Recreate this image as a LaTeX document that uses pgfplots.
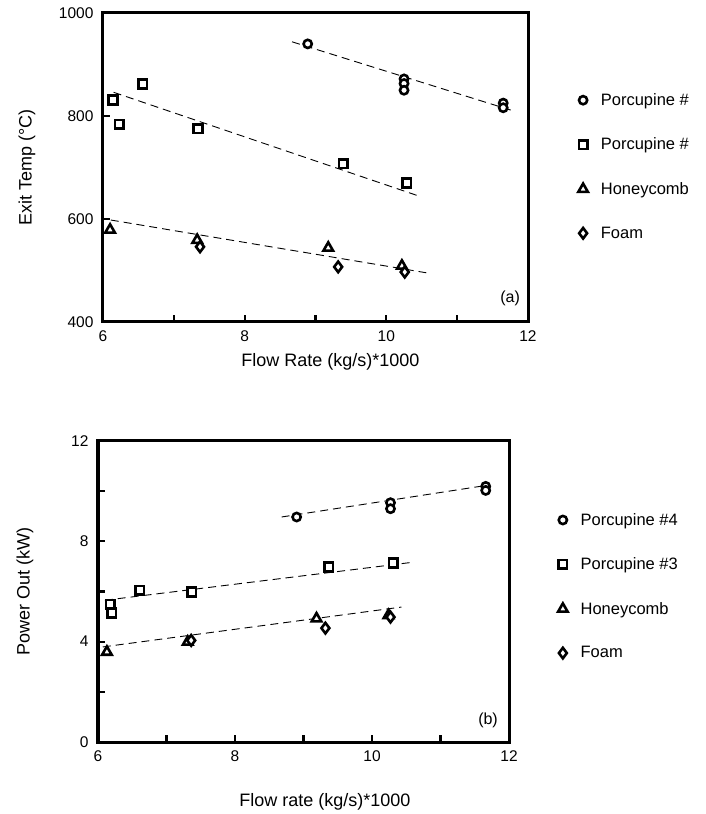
\documentclass[border=0pt]{standalone}
\usepackage{fontspec}
\setmainfont{Liberation Sans}
\usepackage{pgfplots}
\pgfplotsset{compat=1.18}
\pgfplotsset{
  myaxis/.style={
    scale only axis,
    clip=false,
    separate axis lines,
    every outer x axis line/.append style={line width=3pt, black},
    every outer y axis line/.append style={line width=3pt, black},
    major tick style={line width=2.2pt, black},
    major tick length=7pt,
    tick align=inside,
    xtick pos=left, ytick pos=left,
    /pgf/number format/assume math mode=true,
    tick label style={font=\fontsize{15.5}{18}\selectfont},
    xticklabel style={yshift=-5pt},
    yticklabel style={xshift=-6pt},
    legend style={font=\fontsize{16.5}{19}\selectfont, draw=none, fill=none, inner sep=0pt,
      row sep=27pt, anchor=west, /tikz/every odd column/.append style={column sep=11pt}},
    legend cell align=left,
    legend image code/.code={\draw[##1] plot coordinates {(0pt,0pt)};},
  },
  mc/.style={only marks, black, mark=*, mark size=4.1pt, mark options={line width=2.6pt, fill=white}},
  ms/.style={only marks, black, mark=square*, mark size=4.3pt, mark options={line width=2.6pt, fill=white}},
  mt/.style={only marks, black, mark=triangle*, mark size=5.5pt, mark options={line width=2.6pt, fill=white}},
  md/.style={only marks, black, mark=diamond*, mark size=5.3pt, mark options={line width=2.6pt, fill=white}},
  trend/.style={forget plot, black, line width=0.9pt, dash pattern=on 8pt off 5pt, mark=none},
}
\begin{document}
\begin{tikzpicture}
\useasboundingbox (0pt,0pt) rectangle (705pt,814pt);
% ---------------- (a) ----------------
\begin{axis}[myaxis, at={(103pt,492pt)}, anchor=south west, width=425pt, height=309pt,
  xmin=6, xmax=12, ymin=400, ymax=1000,
  xtick={6,7,8,9,10,11,12}, xticklabels={6,,8,,10,,12},
  ytick={400,600,800,1000}, yticklabels={400,600,800,1000},
  xlabel={Flow Rate (kg/s)*1000}, ylabel={Exit Temp (°C)},
  every axis x label/.style={at={(axis description cs:0.535,-0.129)}, anchor=center, font=\fontsize{18}{21}\selectfont},
  every axis y label/.style={at={(axis description cs:-0.179,0.5)}, rotate=90, anchor=center, font=\fontsize{18}{21}\selectfont},
  legend style={at={(axis description cs:1.118,0.503)}},
]
\addplot[trend] coordinates {(8.67,944) (11.79,810)};
\addplot[trend] coordinates {(6.15,846) (10.45,645)};
\addplot[trend] coordinates {(6.11,598) (10.59,495)};
\addplot[mc] coordinates {(8.89,940) (10.25,872) (10.25,863) (10.25,850) (11.65,825) (11.65,816)};
\addlegendentry{Porcupine \#}
\addplot[ms] coordinates {(6.14,831) (6.56,862) (6.23,784) (7.34,775) (9.39,707) (10.29,670)};
\addlegendentry{Porcupine \#}
\addplot[mt] coordinates {(6.10,579) (7.33,559) (9.18,544) (10.22,509)};
\addlegendentry{Honeycomb}
\addplot[md] coordinates {(7.37,546) (9.32,507) (10.26,497)};
\addlegendentry{Foam}
\draw[line width=3pt, line join=miter] (rel axis cs:0,0) rectangle (rel axis cs:1,1);
\node[font=\fontsize{16}{19}\selectfont] at (rel axis cs:0.958,0.078) {(a)};
\end{axis}
% ---------------- (b) ----------------
\begin{axis}[myaxis, at={(98pt,72pt)}, anchor=south west, width=411pt, height=301pt,
  xmin=6, xmax=12, ymin=0, ymax=12,
  xtick={6,7,8,9,10,11,12}, xticklabels={6,,8,,10,,12},
  ytick={0,2,4,6,8,10,12}, yticklabels={0,,4,,8,,12},
  xlabel={Flow rate (kg/s)*1000}, ylabel={Power Out (kW)},
  every axis x label/.style={at={(axis description cs:0.552,-0.199)}, anchor=center, font=\fontsize{18}{21}\selectfont},
  every axis y label/.style={at={(axis description cs:-0.178,0.5)}, rotate=90, anchor=center, font=\fontsize{18}{21}\selectfont},
  legend style={at={(axis description cs:1.119,0.517)}},
]
\addplot[trend] coordinates {(8.68,8.97) (11.67,10.23)};
\addplot[trend] coordinates {(6.10,5.65) (10.55,7.15)};
\addplot[trend] coordinates {(6.07,3.79) (10.43,5.38)};
\addplot[mc] coordinates {(8.90,8.97) (10.27,9.54) (10.27,9.30) (11.66,10.19) (11.66,10.03)};
\addlegendentry{Porcupine \#4}
\addplot[ms] coordinates {(6.18,5.49) (6.20,5.14) (6.61,6.05) (7.37,5.98) (9.37,6.98) (10.31,7.14)};
\addlegendentry{Porcupine \#3}
\addplot[mt] coordinates {(6.13,3.59) (7.31,3.99) (9.19,4.92) (10.24,5.05)};
\addlegendentry{Honeycomb}
\addplot[md] coordinates {(7.36,4.05) (9.32,4.54) (10.27,4.98)};
\addlegendentry{Foam}
\draw[line width=3pt, line join=miter] (rel axis cs:0,0) rectangle (rel axis cs:1,1);
\node[font=\fontsize{16}{19}\selectfont] at (rel axis cs:0.949,0.073) {(b)};
\end{axis}
\end{tikzpicture}
\end{document}
